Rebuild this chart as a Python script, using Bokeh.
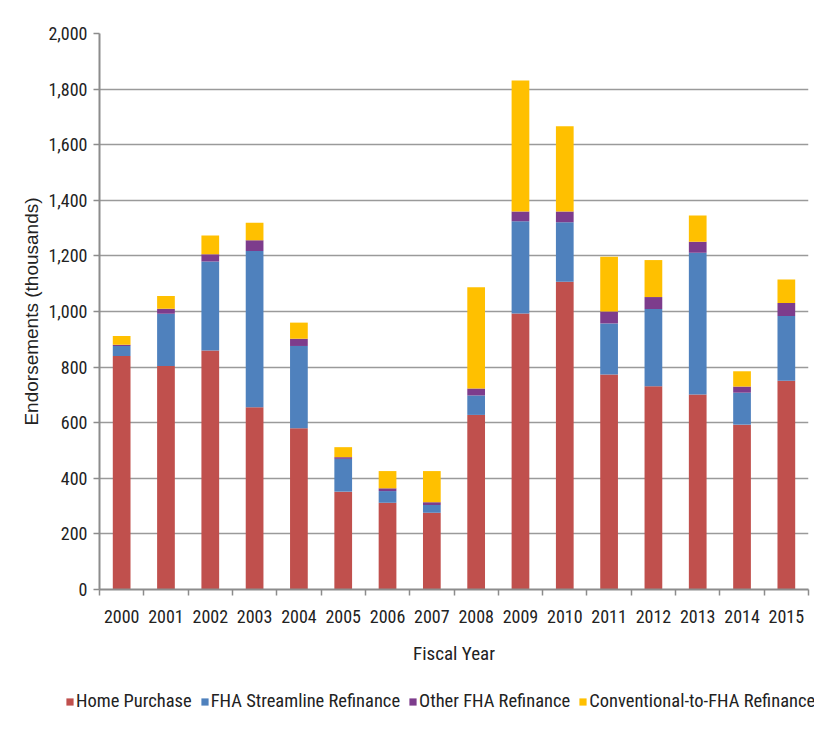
from bokeh.plotting import figure
from bokeh.layouts import column
from bokeh.models import ColumnDataSource, FixedTicker, NumeralTickFormatter, Range1d, Legend, LegendItem
from bokeh.embed import file_html
from bokeh.resources import INLINE

years = ["2000", "2001", "2002", "2003", "2004", "2005", "2006", "2007",
         "2008", "2009", "2010", "2011", "2012", "2013", "2014", "2015"]
home_purchase = [840, 804, 860, 656, 580, 352, 312, 276, 628, 993, 1107, 773, 731, 701, 593, 751]
streamline_refi = [36, 188, 320, 562, 296, 118, 42, 28, 70, 332, 214, 184, 278, 510, 115, 233]
other_refi = [4, 18, 26, 38, 26, 6, 10, 10, 25, 35, 39, 43, 43, 40, 22, 47]
conventional_refi = [32, 46, 67, 63, 58, 36, 62, 112, 364, 471, 306, 197, 133, 94, 55, 84]

series = ["Home Purchase", "FHA Streamline Refinance", "Other FHA Refinance",
          "Conventional-to-FHA Refinance"]
colors = ["#C0504D", "#4F81BD", "#7D3C8C", "#FFC000"]
y_ticks = [0, 200, 400, 600, 800, 1000, 1200, 1400, 1600, 1800, 2000]

NARROW = "'Liberation Sans Narrow', 'Arial Narrow', 'Roboto Condensed', sans-serif"
REG = "Liberation Sans"

xs = list(range(len(years)))
src = ColumnDataSource(dict(x=xs, hp=home_purchase, sr=streamline_refi,
                            oth=other_refi, conv=conventional_refi))
stack = ["hp", "sr", "oth", "conv"]

p = figure(width=814, height=672, output_backend="svg", toolbar_location=None,
           x_range=Range1d(-0.5, len(years) - 0.5), y_range=Range1d(0, 2000))
p.min_border_left = 99
p.min_border_top = 33
p.min_border_right = 6
p.min_border_bottom = 83
p.outline_line_color = None
p.frame_align = False

p.vbar_stack(stack, x="x", width=0.4, source=src, color=colors, line_color=None)

# axes
p.xaxis.ticker = FixedTicker(ticks=xs, minor_ticks=[i - 0.5 for i in range(len(years) + 1)])
p.xaxis.major_label_overrides = {i: y for i, y in enumerate(years)}
p.xaxis.major_tick_line_color = None
p.xaxis.major_tick_out = 0
p.xaxis.major_tick_in = 0
p.xaxis.minor_tick_line_color = "#8C8C8C"
p.xaxis.minor_tick_line_width = 1.5
p.xaxis.minor_tick_out = 6
p.xaxis.minor_tick_in = 0
p.xaxis.axis_line_color = "#8C8C8C"
p.xaxis.axis_line_width = 2
p.xaxis.major_label_text_font = NARROW
p.xaxis.major_label_text_font_size = "18px"
p.xaxis.major_label_text_color = "#222222"
p.xaxis.major_label_standoff = 14
p.xaxis.axis_label = "Fiscal Year"
p.xaxis.axis_label_text_font = NARROW
p.xaxis.axis_label_text_font_size = "19px"
p.xaxis.axis_label_text_font_style = "normal"
p.xaxis.axis_label_text_color = "#222222"
p.xaxis.axis_label_standoff = 16

p.yaxis.ticker = FixedTicker(ticks=y_ticks)
p.yaxis.formatter = NumeralTickFormatter(format="0,0")
p.yaxis.minor_tick_line_color = None
p.yaxis.major_tick_line_color = "#8C8C8C"
p.yaxis.major_tick_line_width = 1.5
p.yaxis.major_tick_out = 6
p.yaxis.major_tick_in = 0
p.yaxis.axis_line_color = "#8C8C8C"
p.yaxis.axis_line_width = 2
p.yaxis.major_label_text_font = NARROW
p.yaxis.major_label_text_font_size = "18px"
p.yaxis.major_label_text_color = "#222222"
p.yaxis.major_label_standoff = 6
p.yaxis.axis_label = "Endorsements (thousands)"
p.yaxis.axis_label_text_font = REG
p.yaxis.axis_label_text_font_size = "19px"
p.yaxis.axis_label_text_font_style = "normal"
p.yaxis.axis_label_text_color = "#222222"
p.yaxis.axis_label_standoff = 3

p.xgrid.grid_line_color = None
p.ygrid.ticker = FixedTicker(ticks=y_ticks)
p.ygrid.grid_line_color = "#9A9A9A"
p.ygrid.grid_line_width = 1.6

# legend strip below the chart: same stacked series as hidden renderers, only the legend shows
lg = figure(width=814, height=46, output_backend="svg", toolbar_location=None,
            x_axis_type=None, y_axis_type=None,
            x_range=Range1d(-0.5, len(years) - 0.5), y_range=Range1d(-2, -1),
            min_border=0)
lg.frame_align = False
lg.outline_line_color = None
lg.xgrid.grid_line_color = None
lg.ygrid.grid_line_color = None
swatches = lg.vbar_stack(stack, x="x", width=0.4, source=src, color=colors, line_color=None)
for r in swatches:
    r.visible = False

legend = Legend(items=[LegendItem(label=s, renderers=[r]) for s, r in zip(series, swatches)],
                orientation="horizontal", location=(65, 6))
legend.label_text_font = NARROW
legend.label_text_font_size = "18.5px"
legend.label_text_color = "#222222"
legend.glyph_width = 9
legend.glyph_height = 9
legend.label_standoff = 2
legend.spacing = 8
legend.padding = 0
legend.margin = 0
legend.border_line_color = None
legend.background_fill_alpha = 0
legend.inactive_fill_alpha = 0
lg.add_layout(legend, "center")

layout = column(p, lg, spacing=0)
open("out.html", "w").write(file_html(layout, INLINE))
